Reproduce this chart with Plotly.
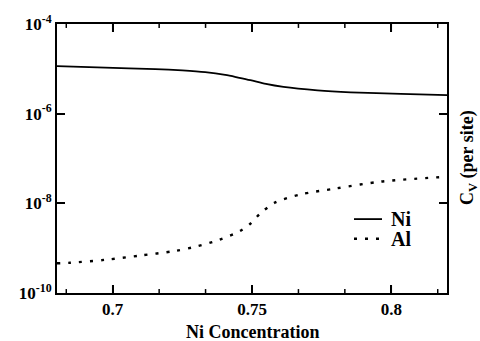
import math
import plotly.graph_objects as go

# Data
ni_x = [0.68, 0.6973, 0.7153, 0.7250, 0.7332, 0.7404, 0.7450, 0.7494, 0.7550, 0.7613, 0.7735,
        0.7854, 0.8034, 0.82]
ni_y = [1.15e-5, 1.06e-5, 9.9e-6, 9.2e-6, 8.4e-6, 7.3e-6, 6.4e-6, 5.6e-6, 4.6e-6, 3.95e-6,
        3.32e-6, 3.0e-6, 2.75e-6, 2.58e-6]

al_x = [0.68, 0.6847, 0.6973, 0.7099, 0.7224, 0.7303, 0.7383, 0.7458, 0.7494, 0.7530, 0.7584,
        0.7674, 0.78, 0.7962, 0.82]
al_y = [4.6e-10, 4.73e-10, 5.5e-10, 6.84e-10, 8.67e-10, 1.10e-9, 1.54e-9, 2.43e-9, 3.51e-9,
        6.0e-9, 1.05e-8, 1.58e-8, 2.14e-8, 3.05e-8, 3.92e-8]

y_tickvals = [1e-10, 1e-8, 1e-6, 1e-4]
y_ticktext = ["10<sup>-10</sup>", "10<sup>-8</sup>", "10<sup>-6</sup>", "10<sup>-4</sup>"]
x_tickvals = [0.7, 0.75, 0.8]
x_ticktext = ["0.7", "0.75", "0.8"]
x_minor = [0.68333, 0.71667, 0.73333, 0.76667, 0.78333, 0.81667]
y_minor = [k * 10.0 ** d for d in (-10, -8, -6) for k in range(2, 11)]

FONT = "Liberation Serif, Times New Roman, serif"
L, R, T, B = 57, 447, 20, 293
W, H = 480, 341
PW, PH = R - L, B - T

def px(x):
    return (x - L) / PW

def py(y):
    return (B - y) / PH

fig = go.Figure()
fig.add_trace(go.Scatter(x=ni_x, y=ni_y, mode="lines", name="Ni",
                         line=dict(color="black", width=1.8, shape="spline", smoothing=0.8)))
fig.add_trace(go.Scatter(x=al_x, y=al_y, mode="lines", name="Al",
                         line=dict(color="black", width=2.4, dash="3px,8px", shape="spline", smoothing=0.8)))

axis_common = dict(showgrid=False, zeroline=False, showline=True, linecolor="black",
                   linewidth=2, mirror="allticks", ticks="inside", tickcolor="black")

tfont = dict(family=FONT, size=17, color="black", weight="bold")

fig.update_layout(
    width=W, height=H,
    margin=dict(l=L, r=W - R, t=T, b=H - B),
    paper_bgcolor="white", plot_bgcolor="white",
    showlegend=False,
    font=tfont,
    xaxis=dict(range=[0.68, 0.82], ticklen=8, tickwidth=1.5,
               tickmode="array", tickvals=x_tickvals, ticktext=x_ticktext,
               tickfont=tfont, **axis_common),
    yaxis=dict(type="log", range=[-10, -4], ticklen=8, tickwidth=1.5,
               tickmode="array", tickvals=y_tickvals, ticktext=y_ticktext,
               tickfont=tfont, **axis_common),
)

# tick marks drawn on top (same positions as the axis ticks)
shapes = []
tick_line = dict(color="black", width=1.5)
for v, ln in [(v, 8) for v in x_tickvals] + [(v, 4) for v in x_minor]:
    shapes.append(dict(type="line", xref="x", yref="paper", x0=v, x1=v, y0=0, y1=ln / PH, line=tick_line))
    shapes.append(dict(type="line", xref="x", yref="paper", x0=v, x1=v, y0=1, y1=1 - ln / PH, line=tick_line))
for v, ln in [(v, 8) for v in y_tickvals[1:-1]] + [(v, 5) for v in y_minor]:
    lv = math.log10(v)
    shapes.append(dict(type="line", xref="paper", yref="y", x0=0, x1=ln / PW, y0=lv, y1=lv, line=tick_line))
    shapes.append(dict(type="line", xref="paper", yref="y", x0=1, x1=1 - ln / PW, y0=lv, y1=lv, line=tick_line))

annotations = [
    dict(text="Ni Concentration", x=px(253), y=py(333), xref="paper", yref="paper",
         showarrow=False, xanchor="center", yanchor="middle",
         font=dict(family=FONT, size=18, color="black", weight="bold")),
    dict(text="C<sub>V</sub> (per site)", x=px(468), y=py(156), xref="paper", yref="paper",
         showarrow=False, xanchor="center", yanchor="middle", textangle=-90,
         font=dict(family=FONT, size=18, color="black", weight="bold")),
    dict(text="Ni", x=px(389), y=py(218), xref="paper", yref="paper",
         showarrow=False, xanchor="left", yanchor="middle",
         font=dict(family=FONT, size=20, color="black", weight="bold")),
    dict(text="Al", x=px(389), y=py(238), xref="paper", yref="paper",
         showarrow=False, xanchor="left", yanchor="middle",
         font=dict(family=FONT, size=20, color="black", weight="bold")),
]
shapes += [
    dict(type="line", xref="paper", yref="paper", x0=px(354), x1=px(382), y0=py(218), y1=py(218),
         line=dict(color="black", width=1.8)),
    dict(type="line", xref="paper", yref="paper", x0=px(354), x1=px(384), y0=py(238), y1=py(238),
         line=dict(color="black", width=2.4, dash="3px,8px")),
]
fig.update_layout(annotations=annotations, shapes=shapes)

fig.write_html("out.html")
